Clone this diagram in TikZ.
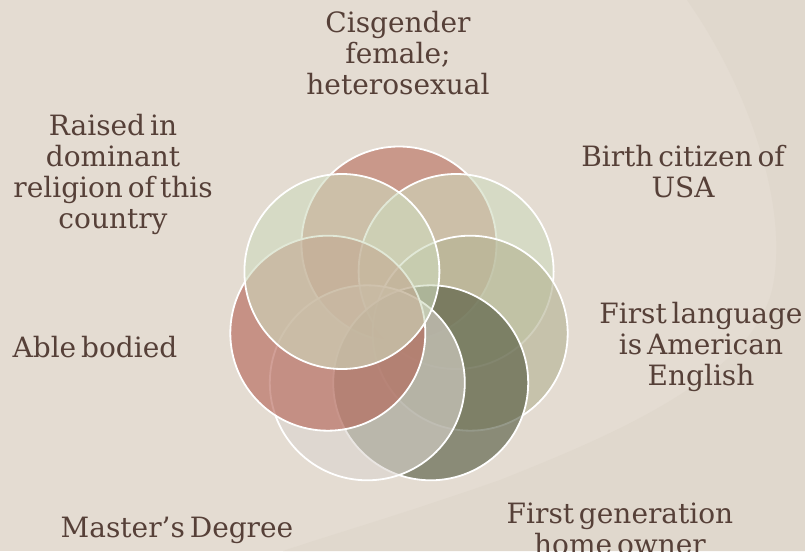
\documentclass[tikz,border=0pt]{standalone}
\usepackage{fontspec}
\setmainfont{DejaVu Serif}[WordSpace=0.55]
\definecolor{bgmain}{RGB}{228,220,210}
\definecolor{bgshade}{RGB}{224,216,205}
\definecolor{labeltext}{RGB}{86,64,56}
\definecolor{roseA}{RGB}{183,108,90}
\definecolor{roseB}{RGB}{179,96,82}
\definecolor{sageLight}{RGB}{206,218,189}
\definecolor{sageMid}{RGB}{179,178,145}
\definecolor{oliveDark}{RGB}{79,85,59}
\definecolor{paleStone}{RGB}{219,213,207}
\tikzset{
  venn/.style={circle, minimum size=195pt, inner sep=0pt, draw=white,
    line width=1.8pt, fill opacity=0.6},
  lbl/.style={font=\fontsize{28}{31}\selectfont, text=labeltext,
    align=center, anchor=base, inner sep=0pt}
}
\begin{document}
\begin{tikzpicture}[x=1pt,y=-1pt]
  % page background
  \fill[bgmain] (0,0) rectangle (805,551);
  \useasboundingbox (0,0) rectangle (805,551);
  % faint swoosh on the right
  \fill[bgshade] (687,0) .. controls (750,90) and (790,210) .. (772,290)
    .. controls (750,380) and (600,440) .. (500,480)
    .. controls (400,515) and (330,535) .. (283,551)
    -- (805,551) -- (805,0) -- cycle;

  % seven overlapping circles, drawn clockwise from the top
  \node[venn, fill=roseA]      (c1) at (399.0,244.0) {};
  \node[venn, fill=sageLight]  (c2) at (456.1,271.5) {};
  \node[venn, fill=sageMid]    (c3) at (470.2,333.2) {};
  \node[venn, fill=oliveDark]  (c4) at (430.7,382.8) {};
  \node[venn, fill=paleStone]  (c5) at (367.3,382.8) {};
  \node[venn, fill=roseB]      (c6) at (327.8,333.2) {};
  \node[venn, fill=sageLight]  (c7) at (341.9,271.5) {};

  % labels (placed by the baseline of their last line)
  \node[lbl] (t1) at (398,94)  {Cisgender\\female;\\heterosexual};
  \node[lbl] (t2) at (683,197) {Birth citizen of\\USA};
  \node[lbl] (t3) at (701,385) {First language\\is American\\English};
  \node[lbl] (t4) at (620,554) {First generation\\home owner};
  \node[lbl] (t5) at (177,537) {Master’s Degree};
  \node[lbl] (t6) at (95,357)  {Able bodied};
  \node[lbl] (t7) at (113,228) {Raised in\\dominant\\religion of this\\country};
\end{tikzpicture}
\end{document}
